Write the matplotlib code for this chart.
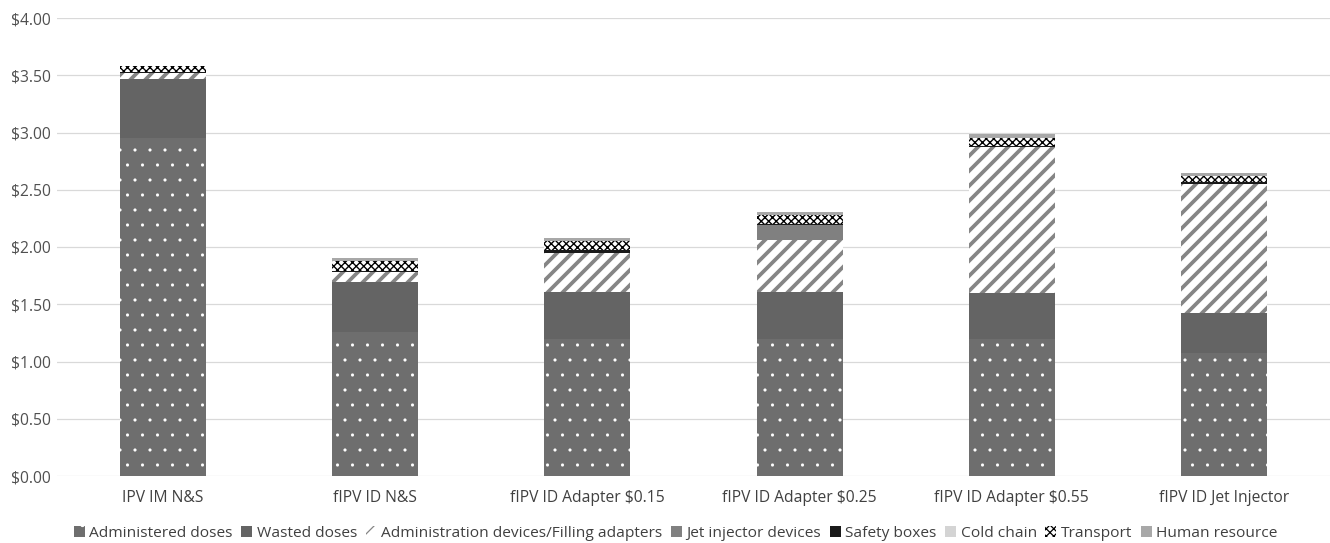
import matplotlib
matplotlib.use("Agg")
import matplotlib.pyplot as plt
import numpy as np
from matplotlib.ticker import FuncFormatter

categories = ["IPV IM N&S", "fIPV ID N&S", "fIPV ID Adapter $0.15",
              "fIPV ID Adapter $0.25", "fIPV ID Adapter $0.55", "fIPV ID Jet Injector"]
administered = [2.95, 1.26, 1.20, 1.20, 1.20, 1.07]
wasted = [0.52, 0.43, 0.41, 0.41, 0.40, 0.35]
admin_devices = [0.05, 0.09, 0.34, 0.45, 1.27, 1.13]
jet_injector = [0.00, 0.00, 0.00, 0.13, 0.00, 0.00]
safety_boxes = [0.005, 0.01, 0.02, 0.01, 0.01, 0.02]
cold_chain = [0.00, 0.00, 0.00, 0.00, 0.00, 0.00]
transport = [0.06, 0.09, 0.08, 0.08, 0.075, 0.05]
human_resource = [0.00, 0.02, 0.03, 0.03, 0.035, 0.025]
series_names = ["Administered doses", "Wasted doses", "Administration devices/Filling adapters",
                "Jet injector devices", "Safety boxes", "Cold chain", "Transport", "Human resource"]
yticks = [0.0, 0.5, 1.0, 1.5, 2.0, 2.5, 3.0, 3.5, 4.0]

plt.rcParams['font.family'] = ['Open Sans', 'DejaVu Sans']

DPI = 90
fig = plt.figure(figsize=(1330 / DPI, 543 / DPI), dpi=DPI)
ax = fig.add_axes([57 / 1330, 1 - 476 / 543, 1 - 57 / 1330, (476 - 18) / 543])

series = [administered, wasted, admin_devices, jet_injector, safety_boxes,
          cold_chain, transport, human_resource]
styles = [
    dict(facecolor="#6e6e6e", edgecolor="white", hatch=".", hlw=0.1),
    dict(facecolor="#646464", edgecolor="#646464", hatch=None, hlw=1.0),
    dict(facecolor="white", edgecolor="#858585", hatch="//", hlw=3.0),
    dict(facecolor="#808080", edgecolor="#808080", hatch=None, hlw=1.0),
    dict(facecolor="#1a1a1a", edgecolor="#1a1a1a", hatch=None, hlw=1.0),
    dict(facecolor="#d4d4d4", edgecolor="#d4d4d4", hatch=None, hlw=1.0),
    dict(facecolor="white", edgecolor="black", hatch="xxxx", hlw=1.1),
    dict(facecolor="#a8a8a8", edgecolor="#a8a8a8", hatch=None, hlw=1.0),
]

x = np.arange(len(categories))
bottom = np.zeros(len(categories))
handles = []
for vals, name, st in zip(series, series_names, styles):
    with plt.rc_context({'hatch.linewidth': st['hlw']}):
        bars = ax.bar(x, vals, width=0.405, bottom=bottom, facecolor=st['facecolor'],
                      edgecolor=st['edgecolor'], hatch=st['hatch'], linewidth=0,
                      label=name, zorder=3)
        for b in bars:
            if hasattr(b, "set_hatch_linewidth"):
                b.set_hatch_linewidth(st['hlw'])
    handles.append(bars)
    bottom += np.array(vals)

ax.set_xlim(-0.5, len(categories) - 0.5)
ax.set_ylim(0, 4.0)
ax.set_yticks(yticks)
ax.yaxis.set_major_formatter(FuncFormatter(lambda v, p: f"${v:.2f}"))
ax.set_xticks(x)
ax.set_xticklabels(categories)
ax.grid(axis='y', color="#d9d9d9", linewidth=1.0, zorder=0)
for s in ax.spines.values():
    s.set_visible(False)
ax.tick_params(axis='both', length=0, labelsize=12.5, colors="#505050")
ax.tick_params(axis='y', pad=5)
ax.tick_params(axis='x', pad=11)
for lab in ax.get_xticklabels():
    lab.set_color("#404040")

leg = fig.legend(handles=handles, labels=series_names, loc='lower center',
                 bbox_to_anchor=(0.508, -0.022), ncol=8, frameon=False,
                 fontsize=12.4, handlelength=0.7, handleheight=0.7,
                 handletextpad=0.3, columnspacing=0.55)
for t in leg.get_texts():
    t.set_color("#404040")

fig.savefig("out.png", dpi=DPI)
